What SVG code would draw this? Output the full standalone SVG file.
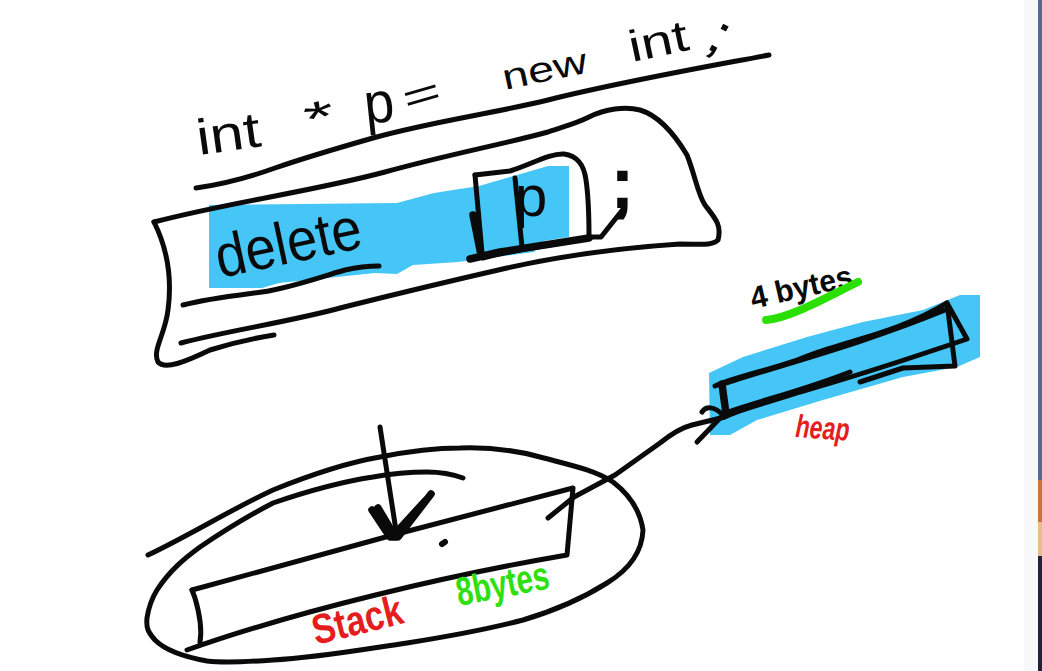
<svg xmlns="http://www.w3.org/2000/svg" width="1042" height="671" viewBox="0 0 1042 671">
<style>
.ink{fill:none;stroke:#0a0a0a;stroke-width:5;stroke-linecap:round;stroke-linejoin:round}
.thick{stroke-width:7.5}
.blue{fill:#45c6f6;stroke:none}
.hand{font-family:"Liberation Sans",Arial,sans-serif;fill:#0a0a0a}
.red{fill:#e41e20;font-weight:bold}
.green{fill:#2fe010;font-weight:bold}
</style>
<rect width="1042" height="671" fill="#ffffff"/>
<g id="window-edge">
<rect x="1024" y="0" width="14" height="671" fill="#f8f8fb"/>
<rect x="1038" y="0" width="4" height="671" fill="#57688f"/>
<rect x="1038" y="480" width="4" height="42" fill="#c9743a"/>
<rect x="1038" y="522" width="4" height="34" fill="#e8bd8c"/>
<rect x="1038" y="556" width="4" height="115" fill="#1c2438"/>
</g>
<g id="code-line">
<text class="hand" font-size="50" transform="translate(199 155) rotate(-8)" textLength="64" lengthAdjust="spacingAndGlyphs">int</text>
<text class="hand" font-size="46" transform="translate(308 136) rotate(-12)" textLength="30" lengthAdjust="spacingAndGlyphs">*</text>
<text class="hand" font-size="58" transform="translate(366 124) rotate(-6)" textLength="30" lengthAdjust="spacingAndGlyphs">p</text>
<text class="hand" font-size="40" transform="translate(407 113) rotate(-16)" textLength="38" lengthAdjust="spacingAndGlyphs">=</text>
<text class="hand" font-size="36" transform="translate(505 90) rotate(-12)" textLength="86" lengthAdjust="spacingAndGlyphs">new</text>
<text class="hand" font-size="44" transform="translate(632 62) rotate(-12)" textLength="60" lengthAdjust="spacingAndGlyphs">int</text>
<text class="hand" font-size="56" transform="translate(704 47) rotate(28)" textLength="18" lengthAdjust="spacingAndGlyphs">;</text>
<path class="ink" d="M196 188C225 184 250 177 275 168C310 156 345 146 373 138C430 122 490 114 548 100C620 82 700 68 769 55"/>
</g>
<g id="delete-statement">
<path class="blue" d="M209 205L397 203L434 193L479 186L524 173L548 166L569 166L569 237L544 241L534 252L458 262L413 265L397 274L375 273L279 283L262 288L209 288Z"/>
<path class="ink" d="M154 222C230 202 310 192 385 172C450 154 500 145 548 132C565 126 575 124 589 117C605 109 625 106 640 110C660 116 675 135 687 155C695 175 698 195 705 205C715 218 722 225 718 240C712 246 700 244 680 244C620 248 560 256 507 268C450 281 400 293 344 307C290 322 230 330 181 343"/>
<path class="ink" d="M154 222C168 250 172 280 168 310C165 335 152 350 158 362C165 370 185 362 210 350C235 342 255 338 274 335"/>
<path class="ink" d="M183 305C210 298 240 295 262 292C290 288 320 277 345 270C358 267 368 266 379 266"/>
<text class="hand" font-size="60" transform="translate(220 278) rotate(-12)" textLength="148" lengthAdjust="spacingAndGlyphs">delete</text>
</g>
<g id="pointer-box">
<path class="ink" d="M475 175L510 171C530 165 550 153 564 154C578 156 584 165 586 180C589 200 589 220 589 237C560 245 520 248 483 258"/>
<path class="ink" d="M475 175L482 253"/>
<path class="ink thick" d="M473 215L481 255M470 259L500 252L589 238"/>
<path class="ink" d="M515 178L522 247"/>
<text class="hand" font-size="58" x="515" y="216">p</text>
<path class="ink" d="M589 237L601 237L624 208"/>
<text class="hand" font-size="74" x="610" y="208" font-weight="bold">;</text>
</g>
<g id="heap">
<path class="blue" d="M709 373L743 357L807 337L863 322L923 310L960 295L980 295L980 357L957 367L903 377L823 400L757 420L730 435L710 435Z"/>
<path class="ink" d="M715 386C740 375 780 368 810 355C850 340 900 332 947 303L967 339C920 355 860 375 800 392C770 402 745 408 727 416"/>
<path class="ink" d="M947 303L955 366L903 368L860 382"/>
<path class="ink thick" d="M722 384L726 414"/>
<path class="ink" d="M720 385C780 365 860 345 945 310M728 412C770 398 810 388 850 372"/>
<text class="hand" font-size="31" transform="translate(753 309) rotate(-13)" textLength="104" lengthAdjust="spacingAndGlyphs" font-weight="bold">4 bytes</text>
<path d="M766 320C790 318 825 298 858 282" fill="none" stroke="#2be000" stroke-width="8" stroke-linecap="round"/>
<text class="hand red" font-size="32" transform="translate(795 437) rotate(4)" textLength="54" lengthAdjust="spacingAndGlyphs" font-style="italic">heap</text>
</g>
<g id="stack">
<path class="ink" d="M192 590L393 535L573 488L567 555C450 575 300 610 187 650"/>
<path class="ink" d="M192 590L195 598C200 615 202 630 200 642"/>
<path class="ink" d="M442 544L445 542" style="stroke-width:6"/>
<text class="hand red" font-size="42" transform="translate(316 645) rotate(-14)" textLength="92" lengthAdjust="spacingAndGlyphs">Stack</text>
<text class="hand green" font-size="40" transform="translate(459 606) rotate(-11)" textLength="94" lengthAdjust="spacingAndGlyphs">8bytes</text>
</g>
<g id="connectors">
<path class="ink" d="M148 555C190 535 230 510 273 490C310 475 345 463 380 457C410 451 435 448 460 448C490 447 515 450 540 457C570 465 595 470 613 482C630 495 640 510 643 530C642 555 625 572 607 583C580 600 550 612 523 620C485 630 445 637 407 643C360 650 315 658 273 660C245 662 225 663 207 661C185 657 165 650 155 640C148 632 146 628 147 618C149 605 152 598 157 590C170 570 185 558 200 547C225 530 250 515 273 503C305 492 340 482 373 477C395 473 412 472 427 472C440 472 452 474 463 478"/>
<path class="ink" d="M380 427L397 537"/>
<path class="ink thick" d="M372 510L390 537L398 537L431 494M378 508L394 535L426 500"/>
<path class="ink" d="M548 518L574 497L615 475L660 443C670 435 680 428 692 425L725 417"/>
<path class="ink" d="M702 412C706 406 714 406 723 415L697 442"/>
</g>
</svg>
